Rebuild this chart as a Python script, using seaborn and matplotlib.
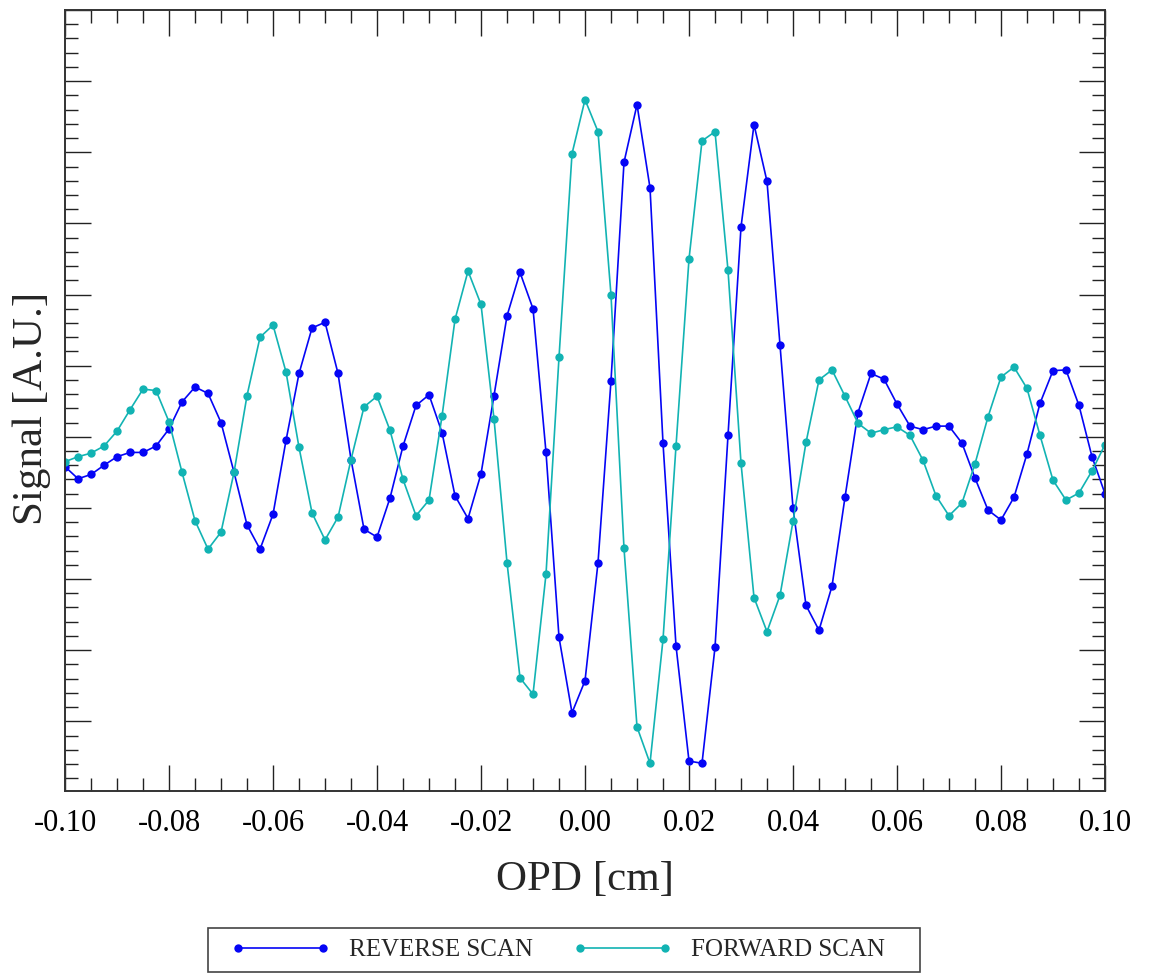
import numpy as np
import pandas as pd
import matplotlib.pyplot as plt
import seaborn as sns
from matplotlib.patches import Rectangle
from matplotlib.ticker import MultipleLocator, NullFormatter

# interferogram near zero path difference, two scan directions

# sample positions, 0.0025 cm step
opd = np.linspace(-0.10, 0.10, 81)

reverse_scan = [
    0.58, 0.41, 0.47, 0.60, 0.72, 0.78, 0.78, 0.87, 1.11, 1.49,
    1.70, 1.61, 1.20, 0.50, -0.24, -0.58, -0.09, 0.95, 1.89, 2.53,
    2.61, 1.89, 0.68, -0.30, -0.41, 0.14, 0.87, 1.44, 1.59, 1.06,
    0.17, -0.15, 0.48, 1.58, 2.70, 3.31, 2.80, 0.78, -1.82, -2.88,
    -2.43, -0.77, 1.79, 4.86, 5.67, 4.50, 0.91, -1.94, -3.56, -3.59,
    -1.96, 1.02, 3.95, 5.39, 4.59, 2.29, 0.00, -1.37, -1.72, -1.10,
    0.15, 1.34, 1.89, 1.81, 1.46, 1.15, 1.10, 1.15, 1.15, 0.91,
    0.42, -0.03, -0.17, 0.15, 0.76, 1.47, 1.93, 1.94, 1.44, 0.72,
    0.20,
]

forward_scan = [
    0.65, 0.72, 0.77, 0.87, 1.08, 1.38, 1.67, 1.65, 1.21, 0.50,
    -0.18, -0.58, -0.34, 0.50, 1.58, 2.40, 2.57, 1.91, 0.85, -0.07,
    -0.45, -0.13, 0.68, 1.42, 1.57, 1.09, 0.40, -0.11, 0.11, 1.29,
    2.65, 3.33, 2.86, 1.25, -0.77, -2.39, -2.62, -0.93, 2.12, 4.98,
    5.74, 5.29, 2.99, -0.57, -3.08, -3.59, -1.85, 0.87, 3.50, 5.16,
    5.29, 3.34, 0.63, -1.26, -1.74, -1.23, -0.19, 0.92, 1.80, 1.94,
    1.57, 1.19, 1.05, 1.10, 1.14, 1.02, 0.67, 0.17, -0.11, 0.07,
    0.62, 1.28, 1.84, 1.98, 1.68, 1.02, 0.39, 0.11, 0.21, 0.52,
    0.89,
]

df = pd.DataFrame({'opd': opd, 'reverse': reverse_scan, 'forward': forward_scan})

sns.set_style('white')
plt.rcParams['font.family'] = ['Liberation Serif', 'DejaVu Serif']

fig = plt.figure(figsize=(11.49, 9.74), dpi=100)
ax = fig.add_axes([0.0566, 0.1879, 0.9051, 0.8018])

sns.lineplot(data=df, x='opd', y='reverse', ax=ax, color='#0505f5', lw=1.2,
             marker='o', markersize=6, markeredgewidth=0, label='REVERSE SCAN')
sns.lineplot(data=df, x='opd', y='forward', ax=ax, color='#12b3b3', lw=1.2,
             marker='o', markersize=6, markeredgewidth=0, label='FORWARD SCAN')

ax.set_xlim(-0.10, 0.10)
ax.set_ylim(-3.98, 7.0)

ax.xaxis.set_major_locator(MultipleLocator(0.02))
ax.xaxis.set_minor_locator(MultipleLocator(0.005))
ax.yaxis.set_major_locator(MultipleLocator(1))
ax.yaxis.set_minor_locator(MultipleLocator(0.2))
ax.yaxis.set_major_formatter(NullFormatter())
ax.xaxis.set_major_formatter(plt.FuncFormatter(lambda v, p: f'{v:.2f}'.replace('-0.00', '0.00')))

ax.tick_params(which='both', direction='in', top=True, right=True,
               bottom=True, left=True, colors='#222222')
ax.tick_params(which='major', length=18.5, width=1.0, labelsize=22, pad=13)
ax.tick_params(which='minor', length=9.3, width=1.0)
ax.tick_params(axis='x', labelcolor='black')

for s in ax.spines.values():
    s.set_color('#333333')
    s.set_linewidth(1.4)

ax.set_xlabel('OPD [cm]', fontsize=31)
ax.set_ylabel('Signal [A.U.]', fontsize=31)
ax.xaxis.set_label_coords(0.5, -0.089)
ax.yaxis.set_label_coords(-0.0135, 0.49)

handles, labels = ax.get_legend_handles_labels()
ax.get_legend().remove()
leg = fig.legend(handles, labels, loc='center', bbox_to_anchor=(0.4854, 0.0246),
                 ncol=2, fontsize=18, numpoints=2, handlelength=4.0,
                 handletextpad=0.74, columnspacing=1.62, borderpad=0.0,
                 frameon=False)
# legend box drawn separately: wider side padding than top/bottom
fig.patches.append(Rectangle((208 / 1149, 1 - 972 / 974), 712 / 1149, 44 / 974,
                             transform=fig.transFigure, fill=False,
                             edgecolor='#444444', linewidth=1.2))

fig.savefig('out.png', dpi=100)
